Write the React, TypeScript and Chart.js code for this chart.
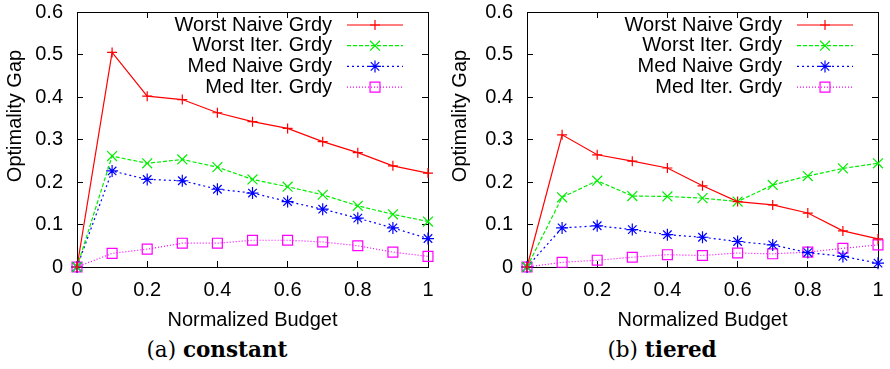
import React, { useEffect, useRef } from "react";
import { Chart, registerables } from "chart.js";

Chart.register(...registerables);

// ---------- data ----------
const budgets = [0, 0.1, 0.2, 0.3, 0.4, 0.5, 0.6, 0.7, 0.8, 0.9, 1.0];
const seriesNames = ["Worst Naive Grdy", "Worst Iter. Grdy", "Med Naive Grdy", "Med Iter. Grdy"];

const constWorstNaive = [0, 0.505, 0.402, 0.394, 0.363, 0.342, 0.326, 0.295, 0.269, 0.238, 0.221];
const constWorstIter = [0, 0.261, 0.244, 0.253, 0.235, 0.206, 0.189, 0.17, 0.144, 0.124, 0.107];
const constMedNaive = [0, 0.226, 0.206, 0.203, 0.183, 0.174, 0.154, 0.136, 0.115, 0.092, 0.067];
const constMedIter = [0, 0.032, 0.042, 0.056, 0.056, 0.063, 0.063, 0.059, 0.05, 0.035, 0.025];

const tierWorstNaive = [0, 0.311, 0.264, 0.249, 0.233, 0.191, 0.154, 0.146, 0.127, 0.085, 0.066];
const tierWorstIter = [0, 0.164, 0.203, 0.167, 0.166, 0.162, 0.154, 0.193, 0.214, 0.232, 0.244];
const tierMedNaive = [0, 0.092, 0.097, 0.088, 0.076, 0.07, 0.06, 0.052, 0.034, 0.025, 0.009];
const tierMedIter = [0, 0.011, 0.016, 0.023, 0.029, 0.027, 0.033, 0.031, 0.035, 0.044, 0.052];

const xAxisTitle = "Normalized Budget";
const yAxisTitle = "Optimality Gap";
const xMin = 0, xMax = 1, xStep = 0.2;
const yMin = 0, yMax = 0.6, yStep = 0.1;

// ---------- styles ----------
const FONT = { family: "'Liberation Sans', Arial, sans-serif", size: 20 };
const styles = [
  { color: "#ff0000", dash: [] as number[], point: "cross", r: 5 },
  { color: "#00ee00", dash: [4, 2], point: "crossRot", r: 7 },
  { color: "#0000ff", dash: [2, 3], point: "star", r: 6 },
  { color: "#ff00ff", dash: [1, 2], point: "rect", r: 7 },
];
const LINE_W = 1.2;

function fmtTick(v: number | string) {
  return String(Number(Number(v).toFixed(3)));
}

function drawMarker(ctx: CanvasRenderingContext2D, kind: string, x: number, y: number, r: number) {
  ctx.beginPath();
  const d = r * Math.SQRT1_2;
  if (kind === "cross" || kind === "star") {
    ctx.moveTo(x - r, y); ctx.lineTo(x + r, y);
    ctx.moveTo(x, y - r); ctx.lineTo(x, y + r);
  }
  if (kind === "crossRot" || kind === "star") {
    ctx.moveTo(x - d, y - d); ctx.lineTo(x + d, y + d);
    ctx.moveTo(x - d, y + d); ctx.lineTo(x + d, y - d);
  }
  if (kind === "rect") {
    ctx.rect(x - d, y - d, 2 * d, 2 * d);
  }
  ctx.stroke();
}

const gpLegend = {
  id: "gpLegend",
  afterDatasetsDraw(chart: any) {
    const ctx: CanvasRenderingContext2D = chart.ctx;
    const area = chart.chartArea;
    ctx.save();
    chart.data.datasets.forEach((ds: any, i: number) => {
      const st = styles[i];
      const y = area.top + 13 + i * 20.7;
      ctx.font = `${FONT.size}px ${FONT.family}`;
      ctx.fillStyle = "#000";
      ctx.textAlign = "right";
      ctx.textBaseline = "middle";
      ctx.fillText(ds.label, area.right - 96, y);
      ctx.strokeStyle = st.color;
      ctx.lineWidth = LINE_W;
      ctx.setLineDash(st.dash);
      ctx.beginPath();
      ctx.moveTo(area.right - 81, y);
      ctx.lineTo(area.right - 25, y);
      ctx.stroke();
      ctx.setLineDash([]);
      drawMarker(ctx, st.point, area.right - 53, y, st.r);
    });
    ctx.restore();
  },
};

const yTitlePlugin = {
  id: "yTitle",
  afterDraw(chart: any) {
    const ctx: CanvasRenderingContext2D = chart.ctx;
    ctx.save();
    ctx.translate(15, 116);
    ctx.rotate(-Math.PI / 2);
    ctx.font = `${FONT.size}px ${FONT.family}`;
    ctx.fillStyle = "#000";
    ctx.textAlign = "center";
    ctx.textBaseline = "middle";
    ctx.fillText(yAxisTitle, 0, 0);
    ctx.restore();
  },
};

const PANEL_W = 445;
const CANVAS_H = 335;
const AREA_TOP = 12;
const AREA_BOTTOM = 267;

function zeroPad(s: any) {
  s.paddingTop = 0;
  s.paddingBottom = 0;
  s.paddingLeft = 0;
  s.paddingRight = 0;
}

function Panel(props: { series: number[][]; areaLeft: number; areaRight: number; label: string; bold: string; left: number }) {
  const ref = useRef<HTMLCanvasElement | null>(null);
  useEffect(() => {
    if (!ref.current) return;
    const datasets = props.series.map((vals, i) => ({
      label: seriesNames[i],
      data: vals.map((v, j) => ({ x: budgets[j], y: v })),
      borderColor: styles[i].color,
      backgroundColor: "transparent",
      borderWidth: LINE_W,
      borderDash: styles[i].dash,
      pointStyle: styles[i].point,
      pointRadius: styles[i].r,
      pointHoverRadius: styles[i].r,
      pointBorderColor: styles[i].color,
      pointBackgroundColor: "transparent",
      pointBorderWidth: LINE_W,
      tension: 0,
      fill: false,
      clip: false,
    }));
    const axisCommon = {
      grid: { drawOnChartArea: false, tickLength: -6, color: "#000", lineWidth: 1 },
      border: { color: "#000", width: 1 },
    };
    const chart = new Chart(ref.current, {
      type: "line",
      data: { datasets },
      options: {
        responsive: false,
        animation: false,
        devicePixelRatio: 1,
        layout: { padding: { top: AREA_TOP, left: 0, right: 0, bottom: 0 } },
        plugins: { legend: { display: false }, tooltip: { enabled: false } },
        scales: {
          x: {
            type: "linear", position: "bottom", min: xMin, max: xMax,
            ...axisCommon,
            ticks: { stepSize: xStep, padding: 17, color: "#000", font: FONT, maxRotation: 0, callback: fmtTick },
            title: { display: true, text: xAxisTitle, color: "#000", font: FONT, padding: { top: 0, bottom: 3 } },
            afterFit: (s: any) => { s.height = CANVAS_H - AREA_BOTTOM; zeroPad(s); },
          },
          x2: {
            type: "linear", position: "top", min: xMin, max: xMax,
            ...axisCommon,
            ticks: { stepSize: xStep, display: false },
            afterFit: (s: any) => { s.height = 0; zeroPad(s); },
          },
          y: {
            type: "linear", position: "left", min: yMin, max: yMax,
            ...axisCommon,
            ticks: { stepSize: yStep, padding: 20, color: "#000", font: FONT, callback: fmtTick },
            afterFit: (s: any) => { s.width = props.areaLeft; zeroPad(s); },
          },
          y2: {
            type: "linear", position: "right", min: yMin, max: yMax,
            ...axisCommon,
            ticks: { stepSize: yStep, display: false },
            afterFit: (s: any) => { s.width = PANEL_W - props.areaRight; zeroPad(s); },
          },
        },
      } as any,
      plugins: [gpLegend, yTitlePlugin],
    });
    return () => chart.destroy();
  }, []);
  return (
    <div style={{ position: "absolute", left: props.left, top: 0, width: PANEL_W, height: 369 }}>
      <canvas ref={ref} width={PANEL_W} height={CANVAS_H} style={{ display: "block", width: PANEL_W, height: CANVAS_H }} />
      <div
        style={{
          position: "absolute", left: 0, top: 337, width: 434, textAlign: "center",
          fontFamily: "'DejaVu Serif', serif", fontSize: 21.5, lineHeight: "26px", color: "#000",
        }}
      >
        {props.label} <b>{props.bold}</b>
      </div>
    </div>
  );
}

export default function App() {
  return (
    <div style={{ position: "fixed", left: 0, top: 0, width: 890, height: 369, background: "#fff", overflow: "hidden" }}>
      <Panel series={[constWorstNaive, constWorstIter, constMedNaive, constMedIter]} areaLeft={77} areaRight={428} label="(a)" bold="constant" left={0} />
      <Panel series={[tierWorstNaive, tierWorstIter, tierMedNaive, tierMedIter]} areaLeft={82} areaRight={433} label="(b)" bold="tiered" left={445} />
    </div>
  );
}
